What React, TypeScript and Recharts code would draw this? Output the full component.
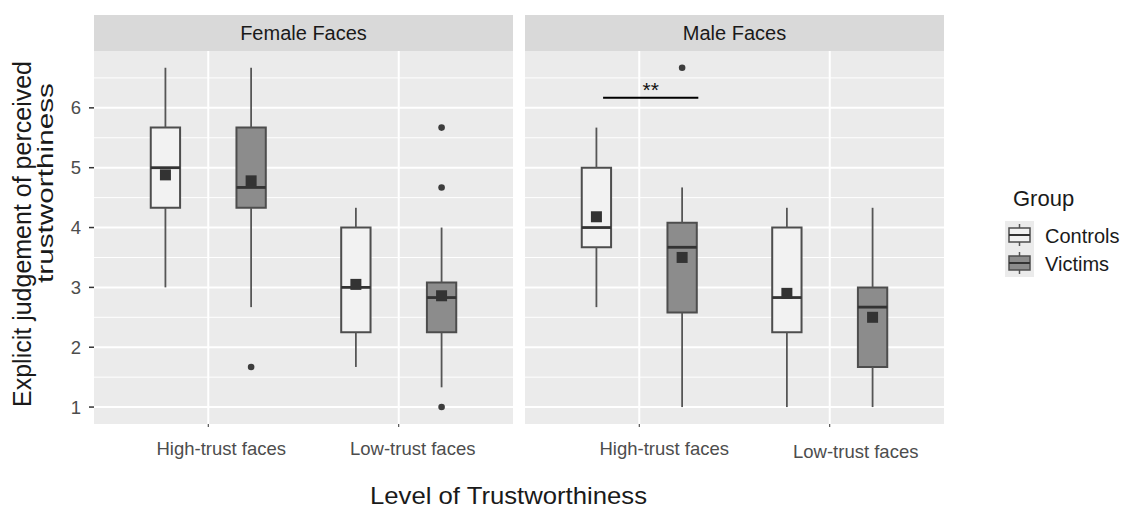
import React from 'react';
import {
  ComposedChart, XAxis, YAxis, CartesianGrid, Scatter, ReferenceArea, ReferenceLine,
} from 'recharts';

type Box = {
  category: string; group: string;
  low: number; q1: number; median: number; q3: number; high: number;
  mean: number; outliers: number[];
};

const categories = ['High-trust faces', 'Low-trust faces'];
const groups = ['Controls', 'Victims'];
const panelTitles = ['Female Faces', 'Male Faces'];
const yTicks = [1, 2, 3, 4, 5, 6];
const yMinor = [1.5, 2.5, 3.5, 4.5, 5.5, 6.5];

const femaleBoxes: Box[] = [
  { category: 'High-trust faces', group: 'Controls', low: 3.0, q1: 4.33, median: 5.0, q3: 5.67, high: 6.67, mean: 4.88, outliers: [] },
  { category: 'High-trust faces', group: 'Victims', low: 2.67, q1: 4.33, median: 4.67, q3: 5.67, high: 6.67, mean: 4.78, outliers: [1.67] },
  { category: 'Low-trust faces', group: 'Controls', low: 1.67, q1: 2.25, median: 3.0, q3: 4.0, high: 4.33, mean: 3.05, outliers: [] },
  { category: 'Low-trust faces', group: 'Victims', low: 1.33, q1: 2.25, median: 2.83, q3: 3.08, high: 4.0, mean: 2.86, outliers: [5.67, 4.67, 1.0] },
];

const maleBoxes: Box[] = [
  { category: 'High-trust faces', group: 'Controls', low: 2.67, q1: 3.67, median: 4.0, q3: 5.0, high: 5.67, mean: 4.18, outliers: [] },
  { category: 'High-trust faces', group: 'Victims', low: 1.0, q1: 2.58, median: 3.67, q3: 4.08, high: 4.67, mean: 3.5, outliers: [6.67] },
  { category: 'Low-trust faces', group: 'Controls', low: 1.0, q1: 2.25, median: 2.83, q3: 4.0, high: 4.33, mean: 2.9, outliers: [] },
  { category: 'Low-trust faces', group: 'Victims', low: 1.0, q1: 1.67, median: 2.67, q3: 3.0, high: 4.33, mean: 2.5, outliers: [] },
];

// significance bar in the Male panel (High-trust faces): x range in category units, y value
const maleSignificance = { x1: 0.81, x2: 1.31, y: 6.17, label: '**' };

const FONT = '"Liberation Sans", Arial, sans-serif';
const DODGE = 0.225;
const HALF = 0.077;
const FILLS: Record<string, string> = { Controls: '#F2F2F2', Victims: '#8C8C8C' };
const Y_DOMAIN: [number, number] = [0.717, 6.95];
const X_DOMAIN: [number, number] = [0.4, 2.6];

const boxX = (b: Box) => categories.indexOf(b.category) + 1 + (groups.indexOf(b.group) === 0 ? -DODGE : DODGE);

const makeTick = (offsets: { dx: number; dy: number }[]) => (props: any) => {
  const { x, y, payload } = props;
  const i = Math.round(payload.value) - 1;
  const o = offsets[i] || { dx: 0, dy: 0 };
  return (
    <text x={x + o.dx} y={y + o.dy} dy="0.35em" textAnchor="middle" fontSize={18.5} fill="#4D4D4D" fontFamily={FONT}>
      {categories[i]}
    </text>
  );
};

const SquareShape = (props: any) => (
  <rect x={props.cx - 5.5} y={props.cy - 5.5} width={11} height={11} fill="#333333" />
);
const DotShape = (props: any) => (
  <circle cx={props.cx} cy={props.cy} r={3.3} fill="#3d3d3d" />
);

function Panel({ boxes, showY, offsets, sig, width, margin }: any) {
  const means = boxes.map((b: Box) => ({ x: boxX(b), y: b.mean }));
  const outs: { x: number; y: number }[] = [];
  boxes.forEach((b: Box) => b.outliers.forEach((v) => outs.push({ x: boxX(b), y: v })));
  return (
    <ComposedChart width={width} height={510} margin={margin} style={{ fontFamily: FONT }}>
      <CartesianGrid fill="#EBEBEB" stroke="#FFFFFF" strokeWidth={1} vertical={false} horizontalValues={yMinor} />
      <CartesianGrid fill="none" stroke="#FFFFFF" strokeWidth={2} horizontalValues={yTicks} verticalValues={[1, 2]} />
      <XAxis type="number" dataKey="x" domain={X_DOMAIN} allowDataOverflow ticks={[1, 2]} interval={0}
        axisLine={false} tickLine={{ stroke: '#333' }} tickSize={3} height={86} tick={makeTick(offsets)} />
      <YAxis type="number" dataKey="y" domain={Y_DOMAIN} allowDataOverflow ticks={yTicks} interval={0}
        hide={!showY} width={94} axisLine={false} tickLine={{ stroke: '#333', strokeWidth: 1.5 }} tickSize={5} tickMargin={8}
        tick={{ fontSize: 18.5, fill: '#4D4D4D', fontFamily: FONT }} />
      {boxes.map((b: Box, i: number) => (
        <ReferenceLine key={'wl' + i} segment={[{ x: boxX(b), y: b.low }, { x: boxX(b), y: b.q1 }]} stroke="#555555" strokeWidth={1.8} />
      ))}
      {boxes.map((b: Box, i: number) => (
        <ReferenceLine key={'wh' + i} segment={[{ x: boxX(b), y: b.q3 }, { x: boxX(b), y: b.high }]} stroke="#555555" strokeWidth={1.8} />
      ))}
      {boxes.map((b: Box, i: number) => (
        <ReferenceArea key={'bx' + i} x1={boxX(b) - HALF} x2={boxX(b) + HALF} y1={b.q1} y2={b.q3}
          fill={FILLS[b.group]} fillOpacity={1} stroke="#4D4D4D" strokeWidth={2} />
      ))}
      {boxes.map((b: Box, i: number) => (
        <ReferenceLine key={'md' + i} segment={[{ x: boxX(b) - HALF, y: b.median }, { x: boxX(b) + HALF, y: b.median }]} stroke="#333" strokeWidth={2.8} />
      ))}
      {sig && (
        <ReferenceLine segment={[{ x: sig.x1, y: sig.y }, { x: sig.x2, y: sig.y }]} stroke="#000" strokeWidth={2}
          label={{ value: sig.label, position: 'top', offset: 1, fontSize: 21, fill: '#111' }} />
      )}
      <Scatter data={means} shape={SquareShape} isAnimationActive={false} />
      <Scatter data={outs} shape={DotShape} isAnimationActive={false} />
    </ComposedChart>
  );
}

export default function App() {
  return (
    <div style={{ position: 'absolute', left: 0, top: 0, width: 1121, height: 510, background: '#fff', fontFamily: FONT, overflow: 'hidden' }}>
      <div style={{ position: 'absolute', left: 0, top: 0 }}>
        <Panel boxes={femaleBoxes} showY offsets={[{ dx: 13, dy: 20 }, { dx: 14, dy: 20 }]} width={515}
          margin={{ top: 51, right: 2, left: 0, bottom: 0 }} />
      </div>
      <div style={{ position: 'absolute', left: 520, top: 0 }}>
        <Panel boxes={maleBoxes} showY={false} offsets={[{ dx: 25, dy: 20 }, { dx: 26, dy: 23 }]} sig={maleSignificance} width={430}
          margin={{ top: 51, right: 6, left: 5, bottom: 0 }} />
      </div>
      <svg width={1121} height={510} style={{ position: 'absolute', left: 0, top: 0, pointerEvents: 'none' }} fontFamily={FONT}>
        <rect x={94} y={15} width={419} height={36} fill="#D9D9D9" />
        <rect x={525} y={15} width={419} height={36} fill="#D9D9D9" />
        <text x={303.5} y={33} dy="0.35em" textAnchor="middle" fontSize={20} fill="#1A1A1A">{panelTitles[0]}</text>
        <text x={734.5} y={33} dy="0.35em" textAnchor="middle" fontSize={20} fill="#1A1A1A">{panelTitles[1]}</text>
        <text transform="translate(22,234) rotate(-90)" textAnchor="middle" dy="0.35em" fontSize={25} fill="#1A1A1A"
          textLength={346} lengthAdjust="spacingAndGlyphs">Explicit judgement of perceived</text>
        <text transform="translate(45,183) rotate(-90)" textAnchor="middle" dy="0.35em" fontSize={22} fill="#1A1A1A"
          textLength={200} lengthAdjust="spacingAndGlyphs">trustworthiness</text>
        <text x={508.5} y={504} textAnchor="middle" fontSize={24} fill="#1A1A1A"
          textLength={277} lengthAdjust="spacingAndGlyphs">Level of Trustworthiness</text>
        <text x={1013} y={198} dy="0.35em" fontSize={22} fill="#1A1A1A">Group</text>
        {groups.map((g, i) => {
          const top = 221 + i * 28;
          return (
            <g key={g}>
              <rect x={1005} y={top} width={29} height={28} fill="#EBEBEB" />
              <line x1={1019.5} x2={1019.5} y1={top + 3} y2={top + 25} stroke="#555555" strokeWidth={1.5} />
              <rect x={1009} y={top + 7} width={21} height={14} fill={FILLS[g]} stroke="#4D4D4D" strokeWidth={1.5} />
              <line x1={1009} x2={1030} y1={top + 14} y2={top + 14} stroke="#333" strokeWidth={2} />
              <text x={1045} y={top + 15} dy="0.35em" fontSize={20} fill="#1A1A1A">{g}</text>
            </g>
          );
        })}
      </svg>
    </div>
  );
}
